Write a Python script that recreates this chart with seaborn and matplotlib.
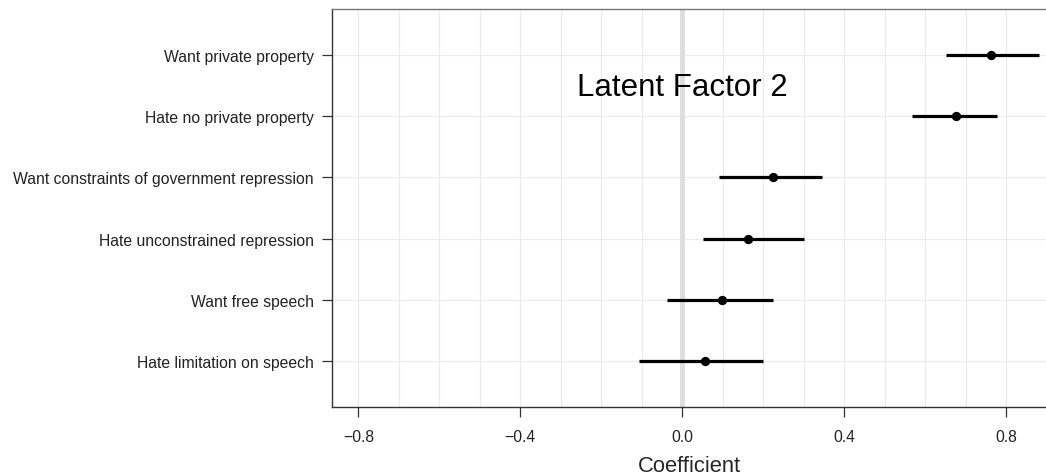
import numpy as np
import pandas as pd
import matplotlib
matplotlib.use('Agg')
import matplotlib.pyplot as plt
import seaborn as sns

# coefficient estimates
items = ['Want private property', 'Hate no private property',
         'Want constraints of government repression', 'Hate unconstrained repression',
         'Want free speech', 'Hate limitation on speech']
coef = [0.763, 0.675, 0.223, 0.163, 0.097, 0.056]
lower = [0.650, 0.568, 0.090, 0.050, -0.039, -0.106]
upper = [0.880, 0.778, 0.344, 0.301, 0.225, 0.200]
xticks = [-0.8, -0.4, 0.0, 0.4, 0.8]

df = pd.DataFrame({'item': items, 'coef': coef, 'lower': lower, 'upper': upper})
df['pos'] = np.arange(len(df))

sns.set_theme(style='white')
plt.rcParams['font.family'] = ['Liberation Sans', 'DejaVu Sans']

fig = plt.figure(figsize=(10.46, 4.77), dpi=100)
ax = fig.add_axes([332 / 1046, 1 - 408 / 477, 1 - 332 / 1046, 398 / 477])

# grid: every 0.1 on x, each row on y
for v in np.arange(-0.8, 0.95, 0.1):
    ax.axvline(v, color='#ebebeb', lw=0.8, zorder=0)
for p in df['pos']:
    ax.axhline(p, color='#ebebeb', lw=0.8, zorder=0)
ax.axvline(0, color='#dedede', lw=3.5, zorder=1)

ax.hlines(df['pos'], df['lower'], df['upper'], color='black', lw=2.3, zorder=3)
sns.scatterplot(data=df, x='coef', y='pos', color='black', s=45, edgecolor='black',
                linewidth=0, zorder=4, ax=ax, legend=False)

ax.text(0.0, 0.53, 'Latent Factor 2', ha='center', va='center', fontsize=22.5, color='black')

ax.set_xlim(-0.865, 0.898)
ax.set_ylim(5.75, -0.75)
ax.set_yticks(df['pos'])
ax.set_yticklabels(df['item'], fontsize=11.3, color='#222222')
ax.set_xticks(xticks)
ax.set_xticklabels(['\u22120.8', '\u22120.4', '0.0', '0.4', '0.8'], fontsize=11.3, color='#222222')
ax.set_xlabel('Coefficient', fontsize=15.8, labelpad=8)
ax.set_ylabel('')
ax.tick_params(axis='both', direction='out', length=7, width=0.9, color='#333333',
               left=True, bottom=True)
ax.tick_params(axis='y', pad=6)
ax.tick_params(axis='x', pad=9)

for side in ['left', 'bottom', 'top']:
    ax.spines[side].set_color('#333333')
    ax.spines[side].set_linewidth(1.0)
ax.spines['top'].set_color('#777777')
ax.spines['right'].set_visible(False)

fig.savefig('out.png', dpi=100)
